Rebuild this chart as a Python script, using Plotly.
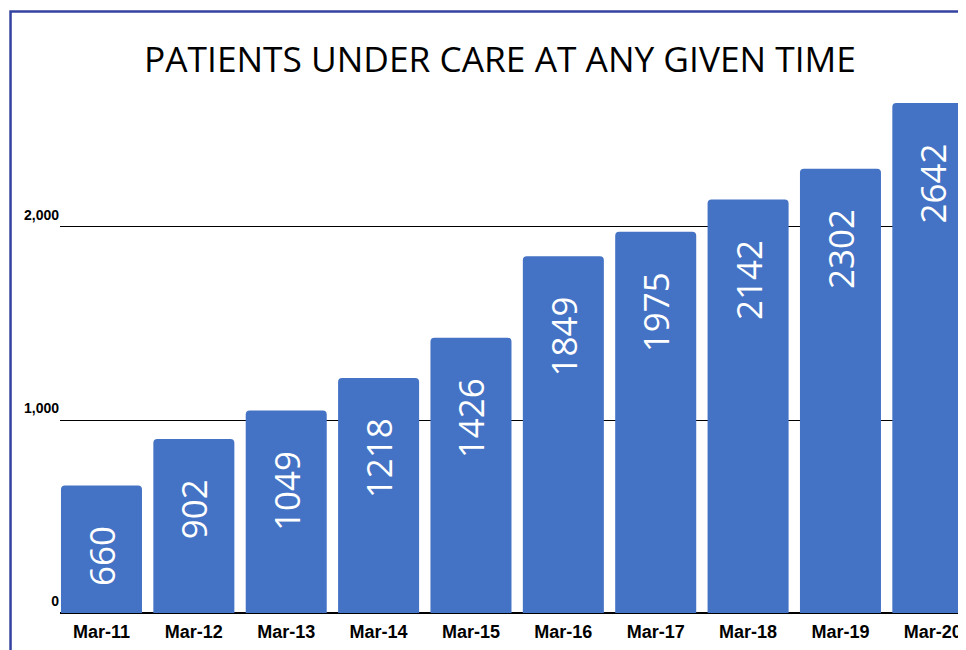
import plotly.graph_objects as go

dates = ["Mar-11", "Mar-12", "Mar-13", "Mar-14", "Mar-15",
         "Mar-16", "Mar-17", "Mar-18", "Mar-19", "Mar-20"]
patients = [660, 902, 1049, 1218, 1426, 1849, 1975, 2142, 2302, 2642]

NB = "\u00a0"

fig = go.Figure()
fig.add_trace(go.Bar(
    x=dates, y=patients,
    marker=dict(color="#4472c4", cornerradius=4, line=dict(width=0)),
    text=[f"{v}" + NB * 4 for v in patients],
    textposition="inside",
    insidetextanchor="end",
    textangle=-90,
    textfont=dict(family="Open Sans", size=35, color="white"),
    cliponaxis=True,
))

# frame lines on left and top edge
fig.add_shape(type="rect", xref="paper", yref="paper",
              x0=-0.0546, x1=1.2, y0=-0.5, y1=1.150,
              line=dict(color="#3443a0", width=2.5), layer="below")

# page body adds an 8px offset, so the figure is made smaller
fig.update_layout(
    width=958, height=642,
    margin=dict(l=52, r=0, t=82, b=37),
    paper_bgcolor="white", plot_bgcolor="white",
    bargap=0.123,
    showlegend=False,
    title=dict(text="PATIENTS UNDER CARE AT ANY GIVEN TIME",
               x=492 / 958, xanchor="center", y=1 - 52 / 642, yanchor="middle",
               font=dict(family="Open Sans", size=35.3, color="black")),
    xaxis=dict(range=[-0.449, 9.359], showgrid=False, showline=False,
               ticks="", ticklabelstandoff=6,
               tickfont=dict(family="Liberation Sans", size=18,
                             color="black", weight="bold")),
    yaxis=dict(range=[0, 2709.8], tickvals=[0, 1000, 2000],
               ticktext=["0", "1,000", "2,000"],
               showgrid=True, gridcolor="black", gridwidth=1,
               zeroline=True, zerolinecolor="black", zerolinewidth=2,
               ticks="", ticklabelshift=-12, ticklabelstandoff=0,
               tickfont=dict(family="Liberation Sans", size=14,
                             color="black", weight="bold")),
)

fig.write_html("out.html")
